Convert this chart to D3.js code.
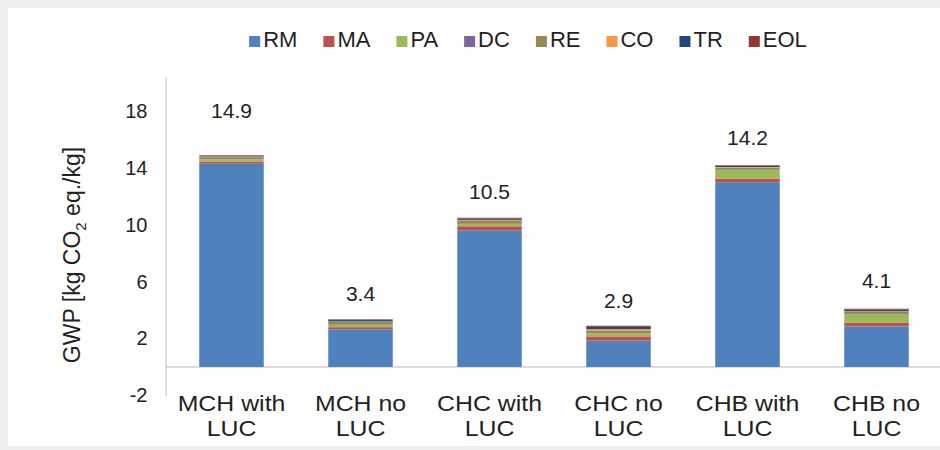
<!DOCTYPE html>
<html>
<head>
<meta charset="utf-8">
<script src="https://cdn.jsdelivr.net/npm/d3@7/dist/d3.min.js"></script>
<style>
  html, body { margin: 0; padding: 0; background: #efefef; }
  svg { display: block; }
  text { font-family: "Liberation Sans", Arial, sans-serif; fill: #222; }
</style>
</head>
<body>
<svg id="chart" width="940" height="450"></svg>
<script>
const categories = [["MCH with", "LUC"], ["MCH no", "LUC"], ["CHC with", "LUC"],
                    ["CHC no", "LUC"], ["CHB with", "LUC"], ["CHB no", "LUC"]];
const stages = ["RM", "MA", "PA", "DC", "RE", "CO", "TR", "EOL"];
const stageColors = ["#4f81bd", "#c0504d", "#9bbb59", "#8064a2", "#948a54", "#f79646", "#1f497d", "#943634"];

// one array per stage, one value per category
const RM  = [14.30, 2.65, 9.60, 1.85, 13.00, 2.85];
const MA  = [0.15, 0.15, 0.30, 0.30, 0.25, 0.25];
const PA  = [0.15, 0.15, 0.15, 0.20, 0.60, 0.60];
const DC  = [0.01, 0.02, 0.02, 0.02, 0.02, 0.02];
const RE  = [0.15, 0.20, 0.20, 0.20, 0.15, 0.15];
const CO  = [0.05, 0.03, 0.08, 0.10, 0.05, 0.05];
const TR  = [0.05, 0.10, 0.10, 0.15, 0.10, 0.12];
const EOL = [0.04, 0.05, 0.05, 0.08, 0.03, 0.06];
const totals = ["14.9", "3.4", "10.5", "2.9", "14.2", "4.1"];
const yTicks = [-2, 2, 6, 10, 14, 18];

const svg = d3.select("#chart");

// white card on grey page
svg.append("rect").attr("x", 8).attr("y", 8).attr("width", 932).attr("height", 438).attr("fill", "#fff");

const x = d3.scaleBand().domain(d3.range(categories.length))
  .range([167, 941]).paddingInner(0.5).paddingOuter(0.25);
const y = d3.scaleLinear().domain([-2, 20.4]).range([395.4, 77]);

// rows for the stack
const series = { RM, MA, PA, DC, RE, CO, TR, EOL };
const rows = categories.map((c, i) => {
  const r = { i };
  stages.forEach(s => r[s] = series[s][i]);
  return r;
});
const stacked = d3.stack().keys(stages)(rows);
const color = d3.scaleOrdinal().domain(stages).range(stageColors);

// axes lines
const yAxis = svg.append("g").attr("transform", "translate(165.5,0)")
  .call(d3.axisLeft(y).tickValues(yTicks).tickSize(0).tickPadding(18).tickFormat(d => String(d)));
yAxis.select(".domain").attr("stroke", "#d0d0d0").attr("stroke-width", 1.5);
yAxis.selectAll("text").attr("font-size", 20).style("font-family", "Liberation Sans, Arial, sans-serif").attr("fill", "#222");

svg.append("line")
  .attr("x1", 165).attr("x2", 940).attr("y1", y(0)).attr("y2", y(0))
  .attr("stroke", "#d0d0d0").attr("stroke-width", 1.5);

// bars
svg.append("g").selectAll("g")
  .data(stacked)
  .enter()
  .append("g")
  .attr("fill", d => color(d.key))
  .selectAll("rect")
  .data(d => d)
  .enter()
  .append("rect")
  .attr("x", d => x(d.data.i))
  .attr("width", x.bandwidth())
  .attr("y", d => y(d[1]))
  .attr("height", d => y(d[0]) - y(d[1]));

// total labels above bars (first one sits higher in the original)
const labelLift = [44, 25, 26, 25, 27, 28];
svg.append("g").selectAll("text")
  .data(totals)
  .enter()
  .append("text")
  .attr("x", (d, i) => x(i) + x.bandwidth() / 2)
  .attr("y", (d, i) => y(d3.sum(stages, s => series[s][i])) - labelLift[i] + 7)
  .attr("text-anchor", "middle")
  .attr("font-size", 21)
  .text(d => d);

// category labels, a little wider than plain Arial
const catLabels = svg.append("g").selectAll("text")
  .data(categories)
  .enter()
  .append("text")
  .attr("transform", (d, i) => `translate(${x(i) + x.bandwidth() / 2},411) scale(1.13,1)`)
  .attr("text-anchor", "middle")
  .attr("font-size", 22);
catLabels.append("tspan").attr("x", 0).text(d => d[0]);
catLabels.append("tspan").attr("x", 0).attr("dy", 25).text(d => d[1]);

// y axis title
const yTitle = svg.append("text")
  .attr("transform", "translate(80,255) rotate(-90)")
  .attr("text-anchor", "middle")
  .attr("font-size", 23);
yTitle.append("tspan").text("GWP [kg CO");
yTitle.append("tspan").attr("font-size", 15).attr("dy", 6).text("2");
yTitle.append("tspan").attr("dy", -6).text(" eq./kg]");

// legend
const legend = svg.append("g");
let lx = 0;
stages.forEach((s, i) => {
  const item = legend.append("g").attr("transform", `translate(${lx},0)`);
  item.append("rect").attr("x", 0).attr("y", -7).attr("width", 11).attr("height", 11).attr("fill", stageColors[i]);
  const t = item.append("text").attr("x", 14).attr("y", 4).attr("font-size", 22).text(s);
  lx += 14 + t.node().getComputedTextLength() + 26;
});
legend.attr("transform", `translate(${528 - (lx - 26) / 2},43)`);
</script>
</body>
</html>
